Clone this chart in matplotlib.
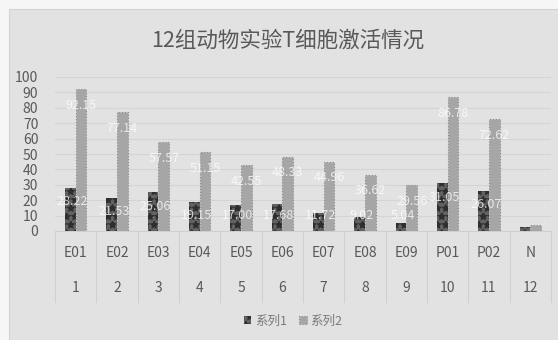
import matplotlib
matplotlib.use("Agg")
import matplotlib.pyplot as plt
from matplotlib.patches import Rectangle
from matplotlib.transforms import blended_transform_factory
import numpy as np

plt.rcParams['font.family'] = ['Noto Sans CJK SC', 'DejaVu Sans']
plt.rcParams['hatch.linewidth'] = 1.2

title = "12组动物实验T细胞激活情况"
groups = ["E01", "E02", "E03", "E04", "E05", "E06", "E07", "E08", "E09", "P01", "P02", "N"]
numbers = ["1", "2", "3", "4", "5", "6", "7", "8", "9", "10", "11", "12"]
series_names = ["系列1", "系列2"]
series1 = [28.22, 21.53, 25.06, 19.15, 17.00, 17.68, 11.72, 9.02, 5.04, 31.05, 26.07, 2.6]
series2 = [92.15, 77.14, 57.57, 51.15, 42.55, 48.33, 44.96, 36.62, 29.56, 86.78, 72.62, 4.0]
show_label = [True] * 11 + [False]
yticks = [0, 10, 20, 30, 40, 50, 60, 70, 80, 90, 100]

W, H = 558, 340
fig = plt.figure(figsize=(W / 100, H / 100), dpi=100)
fig.patch.set_facecolor('#f6f6f6')
fig.patches.append(Rectangle((9 / W, 0), 1 - 9 / W, 1 - 9 / H, transform=fig.transFigure,
                             facecolor='#e2e2e2', edgecolor='#d2d2d2', linewidth=0.8, zorder=-10))

ax = fig.add_axes([55 / W, (H - 231) / H, 496 / W, 154 / H])
ax.set_facecolor('none')
ax.set_zorder(2)

x = np.arange(len(groups))
bw = 0.26
b1 = ax.bar(x - bw / 2, series1, bw, color='#626262', edgecolor='#2e2e2e', linewidth=0,
            hatch='**', label=series_names[0], zorder=3)
b2 = ax.bar(x + bw / 2, series2, bw, color='#a6a6a6', edgecolor='#8c8c8c', linewidth=0.8,
            linestyle=':', label=series_names[1], zorder=3)

for i in range(len(groups)):
    if not show_label[i]:
        continue
    y1 = max(series1[i] - 9, 10)
    ax.text(x[i] - bw / 2 + 0.05, y1, f"{series1[i]:.2f}", color='white', alpha=0.75,
            fontsize=9, ha='center', va='center', zorder=5)
    y2 = series2[i] - 10.5
    ax.text(x[i] + bw / 2, y2, f"{series2[i]:.2f}", color='white', alpha=0.75,
            fontsize=9, ha='center', va='center', zorder=5)

ax.set_xlim(-0.5, len(groups) - 0.5)
ax.set_ylim(0, 100)
ax.set_yticks(yticks)
ax.set_yticklabels([str(t) for t in yticks], fontsize=10, color='#595959')
ax.tick_params(axis='y', length=0, pad=12)
ax.grid(axis='y', color='#d4d4d4', linewidth=0.8, zorder=0)
ax.set_axisbelow(True)
for s in ax.spines.values():
    s.set_visible(False)

ax.set_xticks([])
tr = blended_transform_factory(ax.transData, ax.transAxes)
for i in range(len(groups)):
    ax.text(x[i], -0.143, groups[i], transform=tr, ha='center', va='center',
            fontsize=10, color='#595959')
    ax.text(x[i], -0.370, numbers[i], transform=tr, ha='center', va='center',
            fontsize=10, color='#595959')
for k in range(len(groups) + 1):
    ax.plot([k - 0.5, k - 0.5], [0, -0.461], transform=tr, color='#d0d0d0',
            linewidth=0.8, clip_on=False)
ax.plot([-0.5, len(groups) - 0.5], [0, 0], transform=tr, color='#d0d0d0',
        linewidth=0.8, clip_on=False)

fig.text(288 / W, 1 - 41 / H, title, ha='center', va='center', fontsize=15.5, color='#595959')

leg = fig.legend(handles=[b1, b2], labels=series_names, loc='center',
                 bbox_to_anchor=(293 / W, 1 - 321 / H), ncol=2, frameon=False,
                 fontsize=9, handlelength=0.6, handleheight=0.6, handletextpad=0.3,
                 columnspacing=1.0)
for t in leg.get_texts():
    t.set_color('#7a7a7a')

fig.savefig("out.png", dpi=100, facecolor=fig.get_facecolor())
